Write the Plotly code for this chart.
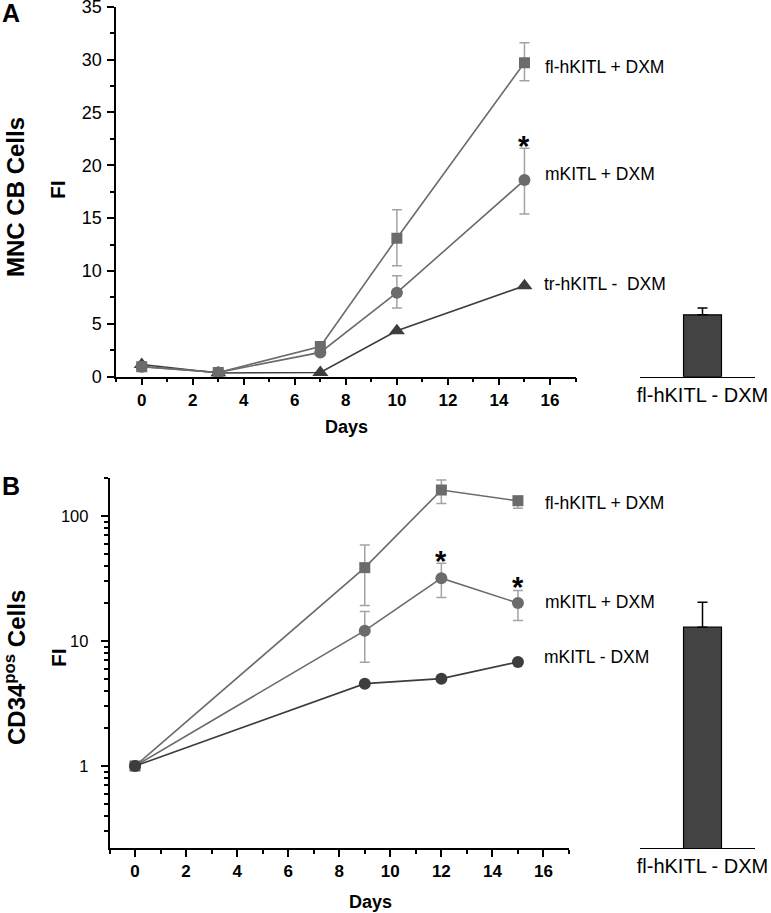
import plotly.graph_objects as go
import math

# ---------------- data ----------------
days_A = [0, 3, 7, 10, 15]
fl_plus_A = [0.95, 0.4, 2.85, 13.1, 29.7]
fl_plus_A_errp = [0, 0, 0, 2.7, 1.9]
fl_plus_A_errm = [0, 0, 0, 2.6, 1.7]
m_plus_A = [0.95, 0.4, 2.3, 7.95, 18.6]
m_plus_A_errp = [0, 0, 0, 1.6, 3.0]
m_plus_A_errm = [0, 0, 0, 1.45, 3.2]
tr_minus_A = [1.15, 0.35, 0.4, 4.35, 8.6]
bar_A_label = ["fl-hKITL - DXM"]
bar_A_value = [5.85]
bar_A_err = [0.65]

days_B = [0, 9, 12, 15]
fl_plus_B = [1.0, 38.6, 161, 132]
fl_plus_B_errp = [0, 20, 33, 12]
fl_plus_B_errm = [0, 19.4, 35, 17]
m_plus_B = [1.0, 12.1, 31.8, 20.1]
m_plus_B_errp = [0, 5.1, 10.1, 5.3]
m_plus_B_errm = [0, 5.35, 9.5, 5.5]
m_minus_B = [1.0, 4.56, 5.0, 6.8]
bar_B_label = ["fl-hKITL - DXM"]
bar_B_value = [12.9]
bar_B_err = [7.5]

A_xticks = [0, 2, 4, 6, 8, 10, 12, 14, 16]
A_yticks = [0, 5, 10, 15, 20, 25, 30, 35]
B_yticks = [1, 10, 100]

# ---------------- helpers ----------------
W, H = 771, 913
def px(x):
    return x / W
def py(y):
    return 1 - y / H

FONT = "Liberation Sans, Arial, Helvetica, sans-serif"
GRAY = "#6b6b6b"
DARK = "#3d3d3d"
ERR = "#a3a3a3"

fig = go.Figure()

def err(p, m):
    return dict(type="data", symmetric=False, array=p, arrayminus=m,
                color=ERR, thickness=1.5, width=5)

# Panel A lines
fig.add_trace(go.Scatter(x=days_A, y=tr_minus_A, mode="lines+markers",
                         line=dict(color=DARK, width=1.6),
                         marker=dict(symbol="triangle-up", size=14, color=DARK),
                         xaxis="x", yaxis="y", showlegend=False))
fig.add_trace(go.Scatter(x=days_A, y=m_plus_A, mode="lines+markers",
                         line=dict(color=GRAY, width=1.6),
                         marker=dict(symbol="circle", size=12, color=GRAY),
                         error_y=err(m_plus_A_errp, m_plus_A_errm),
                         xaxis="x", yaxis="y", showlegend=False))
fig.add_trace(go.Scatter(x=days_A, y=fl_plus_A, mode="lines+markers",
                         line=dict(color=GRAY, width=1.6),
                         marker=dict(symbol="square", size=11, color=GRAY),
                         error_y=err(fl_plus_A_errp, fl_plus_A_errm),
                         xaxis="x", yaxis="y", showlegend=False))

# Panel A bar
fig.add_trace(go.Bar(x=[0], y=bar_A_value, width=0.66,
                     marker=dict(color="#434343", line=dict(color="black", width=1.2)),
                     error_y=dict(type="data", symmetric=False, array=bar_A_err, arrayminus=[0],
                                  color="black", thickness=1.5, width=5),
                     xaxis="x2", yaxis="y2", showlegend=False))

# Panel B lines
fig.add_trace(go.Scatter(x=days_B, y=fl_plus_B, mode="lines+markers",
                         line=dict(color=GRAY, width=1.6),
                         marker=dict(symbol="square", size=11, color=GRAY),
                         error_y=err(fl_plus_B_errp, fl_plus_B_errm),
                         xaxis="x3", yaxis="y3", showlegend=False))
fig.add_trace(go.Scatter(x=days_B, y=m_plus_B, mode="lines+markers",
                         line=dict(color=GRAY, width=1.6),
                         marker=dict(symbol="circle", size=12, color=GRAY),
                         error_y=err(m_plus_B_errp, m_plus_B_errm),
                         xaxis="x3", yaxis="y3", showlegend=False))
fig.add_trace(go.Scatter(x=days_B, y=m_minus_B, mode="lines+markers",
                         line=dict(color=DARK, width=1.6),
                         marker=dict(symbol="circle", size=12, color=DARK),
                         xaxis="x3", yaxis="y3", showlegend=False))

# Panel B bar
fig.add_trace(go.Bar(x=[0], y=bar_B_value, width=0.66,
                     marker=dict(color="#434343", line=dict(color="black", width=1.2)),
                     error_y=dict(type="data", symmetric=False, array=bar_B_err, arrayminus=[0],
                                  color="black", thickness=1.5, width=5),
                     xaxis="x4", yaxis="y4", showlegend=False))

axis_common = dict(showgrid=False, zeroline=False, showline=True, linecolor="black",
                   linewidth=1.5, ticks="outside", tickcolor="black", tickwidth=1.5,
                   ticklen=7, automargin=False, ticklabeloverflow="allow")

xA = dict(axis_common, domain=[px(116.2), px(575.5)], range=[-1, 17],
          tickvals=A_xticks, tickfont=dict(family=FONT, size=17, color="black", weight="bold"),
          minor=dict(dtick=1, tick0=-1, ticks="outside", ticklen=4, tickcolor="black", tickwidth=1.5),
          anchor="y")
yA = dict(axis_common, domain=[py(376.7), py(6.5)], range=[0, 35.02],
          tickvals=A_yticks, tickfont=dict(family=FONT, size=18, color="black"),
          ticklabelstandoff=2,
          minor=dict(dtick=2.5, tick0=0, ticks="outside", ticklen=4, tickcolor="black", tickwidth=1.5),
          anchor="x")
xA2 = dict(domain=[px(640), px(755)], range=[-1.087, 0.913], showgrid=False, zeroline=False,
           showline=True, linecolor="black", linewidth=1.2, ticks="",
           tickvals=[0], ticktext=bar_A_label, automargin=False, ticklabeloverflow="allow",
           tickfont=dict(family=FONT, size=20, color="black"), anchor="y2")
yA2 = dict(domain=[py(376.7), py(6.5)], range=[0, 35.02], visible=False, anchor="x2",
           automargin=False)

xB = dict(axis_common, domain=[px(109.5), px(569)], range=[-1, 17],
          tickvals=A_xticks, tickfont=dict(family=FONT, size=17, color="black", weight="bold"),
          minor=dict(dtick=1, tick0=-1, ticks="outside", ticklen=4, tickcolor="black", tickwidth=1.5),
          anchor="y3")
yB = dict(axis_common, domain=[py(848.3), py(478.3)], type="log",
          range=[math.log10(0.22), math.log10(200)],
          tickvals=B_yticks, ticktext=[str(v) for v in B_yticks],
          tickfont=dict(family=FONT, size=16.5, color="black"),
          ticklabelstandoff=9,
          minor=dict(dtick="D1", ticks="outside", ticklen=4, tickcolor="black", tickwidth=1.5),
          anchor="x3")
xB2 = dict(domain=[px(640), px(755)], range=[-1.087, 0.913], showgrid=False, zeroline=False,
           showline=True, linecolor="black", linewidth=1.2, ticks="",
           tickvals=[0], ticktext=bar_B_label, automargin=False, ticklabeloverflow="allow",
           tickfont=dict(family=FONT, size=20, color="black"), anchor="y4")
yB2 = dict(domain=[py(848.3), py(478.3)], type="log",
           range=[math.log10(0.22), math.log10(200)], visible=False, anchor="x4",
           automargin=False)

annotations = []
def ann(text, x, y, size, bold=False, angle=0, xanchor="center"):
    annotations.append(dict(text=text, x=px(x), y=py(y), xref="paper", yref="paper",
                            showarrow=False, xanchor=xanchor, yanchor="middle",
                            textangle=angle,
                            font=dict(family=FONT, size=size, color="black",
                                      weight="bold" if bold else "normal")))

ann("A", 11, 13, 25, bold=True)
ann("B", 11, 486, 25, bold=True)
ann("MNC CB Cells", 15, 197, 24, bold=True, angle=-90)
ann("FI", 58, 190, 21, bold=True, angle=-90)
ann("CD34<sup>pos</sup> Cells", 15, 668, 24, bold=True, angle=-90)
ann("FI", 58, 658, 21, bold=True, angle=-90)
ann("Days", 346, 427, 18, bold=True)
ann("Days", 370, 902, 18, bold=True)

ann("fl-hKITL + DXM", 543, 67, 17.5, xanchor="left")
ann("mKITL + DXM", 543, 174, 17.5, xanchor="left")
ann("tr-hKITL -\u00a0 DXM", 542, 284, 17.5, xanchor="left")
ann("fl-hKITL + DXM", 543, 503, 17.5, xanchor="left")
ann("mKITL + DXM", 543, 602, 17.5, xanchor="left")
ann("mKITL - DXM", 542, 657, 17.5, xanchor="left")

ann("*", 524, 146, 29, bold=True)
ann("*", 441, 561, 29, bold=True)
ann("*", 517.5, 587, 29, bold=True)

fig.update_layout(
    width=W, height=H,
    margin=dict(l=0, r=0, t=0, b=0),
    paper_bgcolor="white", plot_bgcolor="white",
    xaxis=xA, yaxis=yA, xaxis2=xA2, yaxis2=yA2,
    xaxis3=xB, yaxis3=yB, xaxis4=xB2, yaxis4=yB2,
    annotations=annotations,
    font=dict(family=FONT, color="black"),
)

fig.write_html("out.html", config={"displayModeBar": False},
               post_script="document.body.style.margin='0';")
